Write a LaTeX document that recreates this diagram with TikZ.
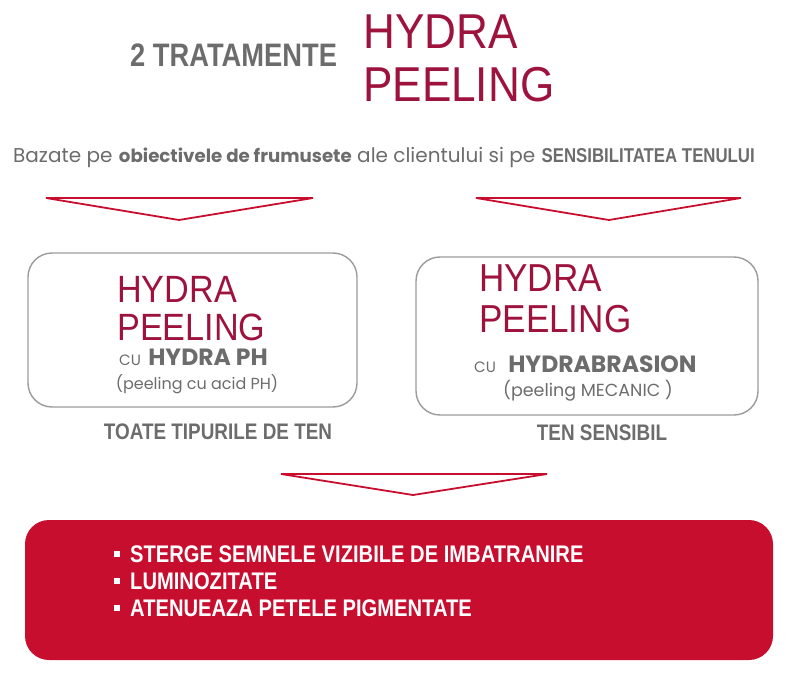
\documentclass[tikz,border=0pt]{standalone}
\usepackage{fontspec}
\setmainfont{Liberation Sans}
\newfontfamily\geofont{Poppins}
\newfontfamily\condfont[FakeStretch=0.84]{Liberation Sans}
\newfontfamily\narrowfont[FakeStretch=0.9]{Liberation Sans}
\usepackage{xcolor}
\usetikzlibrary{positioning}
\definecolor{hydrared}{RGB}{158,18,62}
\definecolor{boxred}{RGB}{200,14,46}
\definecolor{txtgray}{RGB}{108,108,108}
\definecolor{linegray}{RGB}{155,155,155}

\tikzset{
    arrowtri/.style={draw=boxred, line width=1.8pt, line join=miter},
    treatbox/.style={draw=linegray, line width=1.4pt, rounded corners=24pt},
    bigtitle/.style={text=hydrared, inner sep=0pt, anchor=base west},
    graybold/.style={text=txtgray, inner sep=0pt},
    graylight/.style={text=txtgray, inner sep=0pt},
}

\begin{document}
\begin{tikzpicture}[x=1pt,y=-1pt]
    \useasboundingbox (0,0) rectangle (800,679);
    % title
    \node[graybold, anchor=base west, font=\condfont\bfseries\fontsize{32.5}{32.5}\selectfont] (count) at (130,67) {2 TRATAMENTE};
    \node[bigtitle, font=\narrowfont\fontsize{49}{49}\selectfont] (hydra) at (363,49) {HYDRA};
    \node[bigtitle, font=\narrowfont\fontsize{49}{49}\selectfont] (peeling) at (363,102) {PEELING};
    % subtitle, in four pieces
    \node[graylight, anchor=base west, font=\geofont\fontsize{20}{20}\selectfont] (basis1) at (13,163) {Bazate pe};
    \node[graybold, base right=6pt of basis1, font=\geofont\bfseries\fontsize{18.2}{18.2}\selectfont] (basis2) {obiectivele de frumusete};
    \node[graylight, base right=5pt of basis2, font=\geofont\fontsize{20}{20}\selectfont] (basis3) {ale clientului si pe};
    \node[graybold, base right=6pt of basis3, font=\condfont\bfseries\fontsize{20}{20}\selectfont] (basis4) {SENSIBILITATEA TENULUI};
    % arrows
    \draw[arrowtri] (46,198) -- (313,198) -- (179,220) -- cycle;
    \draw[arrowtri] (476,198) -- (741,198) -- (609,220) -- cycle;
    % left treatment
    \draw[treatbox] (28,253) rectangle (357,407);
    \node[bigtitle, font=\narrowfont\fontsize{38}{38}\selectfont] (hydraL) at (117,302) {HYDRA};
    \node[bigtitle, font=\narrowfont\fontsize{38}{38}\selectfont] (peelingL) at (117,340) {PEELING};
    \node[graylight, anchor=base west, font=\geofont\fontsize{15}{15}\selectfont] (cuL) at (119,365) {CU};
    \node[graybold, base right=7pt of cuL, font=\geofont\bfseries\fontsize{23.5}{23.5}\selectfont] (phL) {HYDRA PH};
    \node[graylight, anchor=base, font=\geofont\fontsize{16}{16}\selectfont] (noteL) at (197,389) {(peeling cu acid PH)};
    \node[graybold, anchor=base, font=\condfont\bfseries\fontsize{22.5}{22.5}\selectfont] (skinL) at (218,439) {TOATE TIPURILE DE TEN};
    % right treatment
    \draw[treatbox] (416,257) rectangle (758,415);
    \node[bigtitle, font=\narrowfont\fontsize{39}{39}\selectfont] (hydraR) at (479,291) {HYDRA};
    \node[bigtitle, font=\narrowfont\fontsize{39}{39}\selectfont] (peelingR) at (479,332) {PEELING};
    \node[graylight, anchor=base west, font=\geofont\fontsize{15}{15}\selectfont] (cuR) at (474,372) {CU};
    \node[graybold, base right=12pt of cuR, font=\geofont\bfseries\fontsize{23.5}{23.5}\selectfont] (abrR) {HYDRABRASION};
    \node[graylight, anchor=base, font=\geofont\fontsize{17.5}{17.5}\selectfont] (noteR) at (588,396) {(peeling MECANIC )};
    \node[graybold, anchor=base, font=\condfont\bfseries\fontsize{22.5}{22.5}\selectfont] (skinR) at (602,440) {TEN SENSIBIL};
    % result
    \draw[arrowtri] (281,474) -- (547,474) -- (413,495) -- cycle;
    \fill[boxred, rounded corners=24pt] (25,520) rectangle (773,660);
    \foreach \txt [count=\i] in {STERGE SEMNELE VIZIBILE DE IMBATRANIRE, LUMINOZITATE, ATENUEAZA PETELE PIGMENTATE}{
        \fill[white] (114,{535+27*\i-11}) rectangle ++(6,6);
        \node[text=white, inner sep=0pt, anchor=base west, font=\condfont\bfseries\fontsize{24}{24}\selectfont] (item\i) at (130,{535+27*\i}) {\txt};
    }
\end{tikzpicture}
\end{document}
